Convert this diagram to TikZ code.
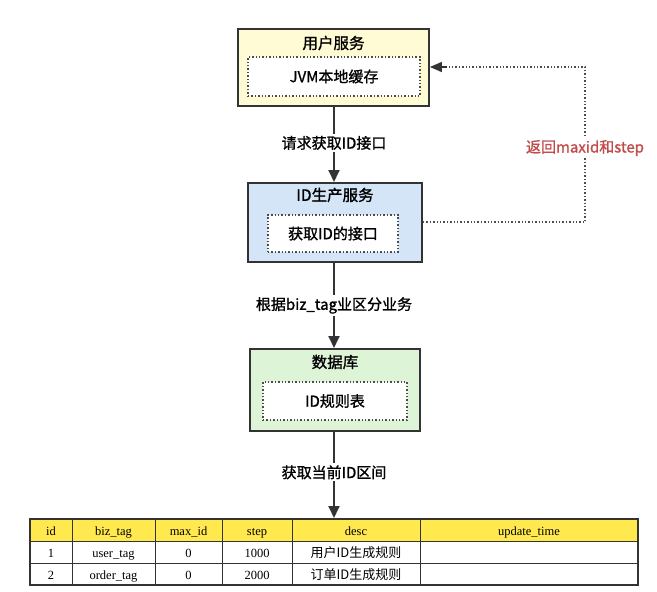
\documentclass[tikz,border=0pt]{standalone}
\usepackage{fontspec}
\setmainfont{Liberation Serif}
\newfontfamily\cjk{Noto Sans CJK SC}[FakeBold=1.2]
\newfontfamily\cjkt{Noto Sans CJK SC}
\usetikzlibrary{arrows.meta}
\definecolor{uy}{HTML}{FFFBD4}
\definecolor{ib}{HTML}{D5E5F8}
\definecolor{dg}{HTML}{DDF4D6}
\definecolor{hy}{HTML}{FFE94F}
\definecolor{rl}{HTML}{C24B4B}
\tikzset{
 outer/.style={draw=black!80, line width=1.8pt, anchor=north},
 inner/.style={draw=black!70, line width=1.4pt, dotted, fill=white, font=\cjk\fontsize{15}{17}\selectfont},
 ttl/.style={font=\cjk\fontsize{15.5}{17}\selectfont},
 lbl/.style={font=\cjk\fontsize{15}{17}\selectfont, fill=white, inner sep=2pt},
 arr/.style={draw=black!80, line width=1.8pt, -{Triangle[length=12pt,width=11pt]}},
 cell/.style={font=\fontsize{12.5}{14}\selectfont},
 ccell/.style={font=\cjkt\fontsize{13}{14}\selectfont}
}
\begin{document}
\begin{tikzpicture}[x=1pt,y=-1pt]
\useasboundingbox (0,0) rectangle (657,592);
% user box
\node[outer, fill=uy, minimum width=191pt, minimum height=77pt] (u) at (333.5,28) {};
\node[ttl] (ut) at (333.5,43) {用户服务};
\node[inner, minimum width=172pt, minimum height=39pt] (uc) at (334,76.5) {JVM本地缓存};
% id box
\node[outer, fill=ib, minimum width=174pt, minimum height=79pt] (i) at (335,182) {};
\node[ttl] (it) at (335,195) {ID生产服务};
\node[inner, minimum width=130pt, minimum height=37pt] (ic) at (333,233.5) {获取ID的接口};
% db box
\node[outer, fill=dg, minimum width=170pt, minimum height=82pt] (d) at (335,348) {};
\node[ttl] (dt) at (335,362) {数据库};
\node[inner, minimum width=144pt, minimum height=38pt] (dc) at (335,401) {ID规则表};
% table
\coordinate (tb) at (334,518);
\fill[hy] (30,519) rectangle (638,541);
\draw[line width=1.2pt, black!80] (30,519) rectangle (638,585);
\foreach \y in {541,563} \draw[line width=1pt, black!80] (30,\y) -- (638,\y);
\foreach \x in {72,155,222,292,420} \draw[line width=1pt, black!80] (\x,519) -- (\x,585);
\foreach \x/\t in {51/id,113.5/biz\_tag,188.5/max\_id,257/step,356/desc,529/update\_time}
  \node[cell, anchor=base] (h\x) at (\x,535) {\t};
\node[cell, anchor=base] (a1) at (51,557) {1};
\node[cell, anchor=base] (a2) at (113.5,557) {user\_tag};
\node[cell, anchor=base] (a3) at (188.5,557) {0};
\node[cell, anchor=base] (a4) at (257,557) {1000};
\node[ccell, anchor=base] (a5) at (356,557) {用户ID生成规则};
\node[cell, anchor=base] (b1) at (51,579) {2};
\node[cell, anchor=base] (b2) at (113.5,579) {order\_tag};
\node[cell, anchor=base] (b3) at (188.5,579) {0};
\node[cell, anchor=base] (b4) at (257,579) {2000};
\node[ccell, anchor=base] (b5) at (356,579) {订单ID生成规则};
% arrows
\draw[arr] (u.south -| 334,0) -- (i.north -| 334,0) node[pos=0.48, lbl] (l1) {请求获取ID接口};
\draw[arr] (i.south -| 334,0) -- (d.north -| 334,0) node[pos=0.5, lbl] (l2) {根据biz\_tag业区分业务};
\draw[arr] (d.south -| 334,0) -- (tb) node[pos=0.47, lbl] (l3) {获取当前ID区间};
% return
\coordinate (c1) at (585,222);
\coordinate (c2) at (585,67);
\draw[line width=1.4pt, black!70, dotted] (i.east |- c1) -- (c1) -- (c2) -- (445,67);
\draw[black!80, -{Triangle[length=12pt,width=10pt]}, line width=1.4pt] (447,67) -- (u.east |- c2);
\node[lbl, text=rl] (rt) at (585,148) {返回maxid和step};
\end{tikzpicture}
\end{document}
